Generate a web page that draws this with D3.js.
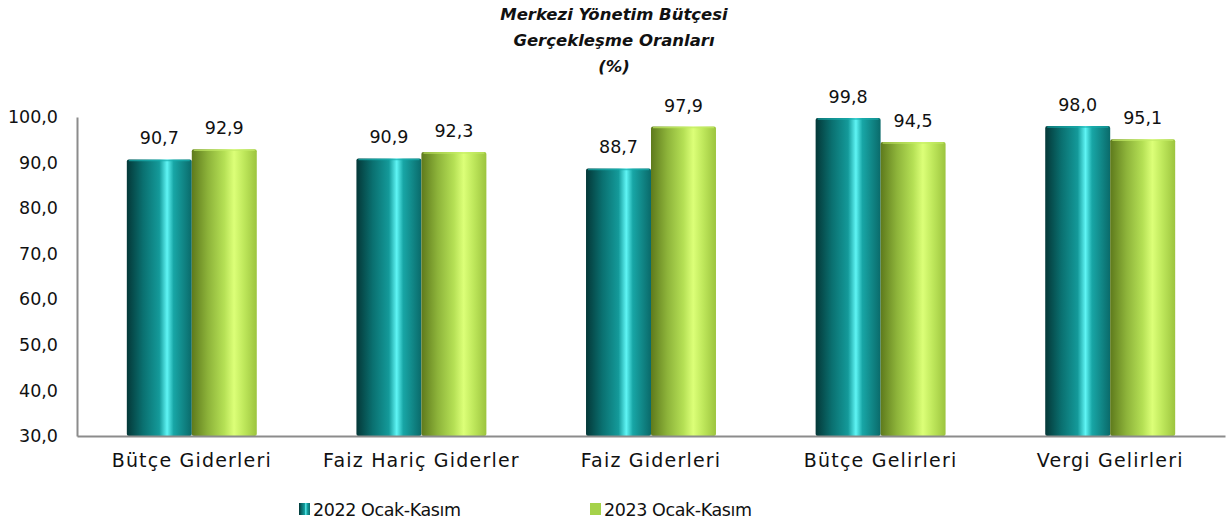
<!DOCTYPE html>
<html>
<head>
<meta charset="utf-8">
<script src="https://cdn.jsdelivr.net/npm/d3@7"></script>
<style>
  body { margin: 0; background: #fff; }
  text { font-family: "DejaVu Sans", sans-serif; fill: #111; }
</style>
</head>
<body>
<div id="chart"></div>
<script>
// chart data
const categories = ["Bütçe Giderleri", "Faiz Hariç Giderler", "Faiz Giderleri", "Bütçe Gelirleri", "Vergi Gelirleri"];
const seriesNames = ["2022 Ocak-Kasım", "2023 Ocak-Kasım"];
const values2022 = [90.7, 90.9, 88.7, 99.8, 98.0];
const values2023 = [92.9, 92.3, 97.9, 94.5, 95.1];
const yTicks = [30, 40, 50, 60, 70, 80, 90, 100];
const titleLines = ["Merkezi Yönetim Bütçesi", "Gerçekleşme Oranları", "(%)"];

const width = 1227;
const height = 524;
const margin = {left: 77, right: 2, top: 117, bottom: 88};
const fontFam = "'DejaVu Sans', sans-serif";

const svg = d3.select("#chart")
  .append("svg")
  .attr("width", width)
  .attr("height", height);

const defs = svg.append("defs");

// cylinder-ish gradients
function cylGrad(id, stops) {
  const g = defs.append("linearGradient").attr("id", id)
    .attr("x1", "0%").attr("x2", "100%").attr("y1", "0%").attr("y2", "0%");
  stops.forEach(s => g.append("stop").attr("offset", s[0]).attr("stop-color", s[1]));
}
cylGrad("g2022", [["0%", "#043838"], ["25%", "#0a7070"], ["50%", "#149a9a"], ["62%", "#5ff5f5"], ["72%", "#18a6a6"], ["100%", "#0a6a6a"]]);
cylGrad("g2023", [["0%", "#5e7a1c"], ["25%", "#8db33a"], ["50%", "#b5e055"], ["65%", "#dcff78"], ["80%", "#bfe85c"], ["100%", "#9cc43e"]]);
const fills = ["url(#g2022)", "url(#g2023)"];
const capFill = ["#1ab0b0", "#c4ec66"];

const data = categories.map((c, i) => ({cat: c, vals: [values2022[i], values2023[i]]}));

const x = d3.scaleBand()
  .domain(categories)
  .range([margin.left, width - margin.right])
  .paddingInner(0.434)
  .paddingOuter(0.217);

const xs = d3.scaleBand()
  .domain([0, 1])
  .range([0, x.bandwidth()]);

const y = d3.scaleLinear()
  .domain([30, 100])
  .range([height - margin.bottom, margin.top]);

// title
svg.append("g").selectAll("text")
  .data(titleLines)
  .join("text")
  .attr("x", 614)
  .attr("y", (d, i) => 20 + i * 26)
  .attr("text-anchor", "middle")
  .attr("font-size", "16.5px")
  .attr("font-weight", "bold")
  .attr("font-style", "italic")
  .text(d => d);

// bars
const groups = svg.append("g").selectAll("g")
  .data(data)
  .join("g")
  .attr("transform", d => `translate(${x(d.cat)},0)`);

groups.selectAll("rect")
  .data(d => d.vals)
  .join("rect")
  .attr("x", (d, i) => xs(i))
  .attr("y", d => y(d))
  .attr("width", xs.bandwidth())
  .attr("height", d => y(30) - y(d))
  .attr("rx", 2)
  .attr("fill", (d, i) => fills[i]);

// small top cap highlight
groups.selectAll("line.cap")
  .data(d => d.vals)
  .join("line")
  .attr("class", "cap")
  .attr("x1", (d, i) => xs(i) + 2)
  .attr("x2", (d, i) => xs(i) + xs.bandwidth() - 2)
  .attr("y1", d => y(d) + 1)
  .attr("y2", d => y(d) + 1)
  .attr("stroke", (d, i) => capFill[i])
  .attr("stroke-width", 1.5)
  .attr("opacity", 0.7);

// value labels
groups.selectAll("text")
  .data(d => d.vals)
  .join("text")
  .attr("x", (d, i) => xs(i) + xs.bandwidth() / 2)
  .attr("y", d => y(d) - 15)
  .attr("text-anchor", "middle")
  .attr("font-size", "17.5px")
  .text(d => d3.format(".1f")(d).replace(".", ","));

// y axis
const yAxis = svg.append("g")
  .attr("transform", `translate(${margin.left},0)`)
  .call(d3.axisLeft(y).tickValues(yTicks).tickSize(0).tickPadding(19)
    .tickFormat(d => d3.format(".1f")(d).replace(".", ",")));
yAxis.select(".domain").attr("stroke", "#8c8c8c").attr("stroke-width", 2);
yAxis.selectAll("text").attr("font-size", "17.5px").style("font-family", fontFam).attr("fill", "#111");

// x axis
const xAxis = svg.append("g")
  .attr("transform", `translate(0,${height - margin.bottom})`)
  .call(d3.axisBottom(x).tickSize(0).tickPadding(18));
xAxis.select(".domain").attr("stroke", "#8c8c8c").attr("stroke-width", 2);
xAxis.selectAll("text").attr("font-size", "19px").attr("letter-spacing", "1.2px")
  .style("font-family", fontFam).attr("fill", "#111");

// legend
const legendX = [299, 590];
const legend = svg.append("g").selectAll("g")
  .data(seriesNames)
  .join("g")
  .attr("transform", (d, i) => `translate(${legendX[i]},503)`);
legend.append("rect")
  .attr("width", 11).attr("height", 12)
  .attr("fill", (d, i) => i === 0 ? "url(#g2022)" : "#a5d24a");
legend.append("text")
  .attr("x", 14).attr("y", 13)
  .attr("font-size", "17.5px")
  .attr("letter-spacing", "-0.4px")
  .text(d => d);
</script>
</body>
</html>
